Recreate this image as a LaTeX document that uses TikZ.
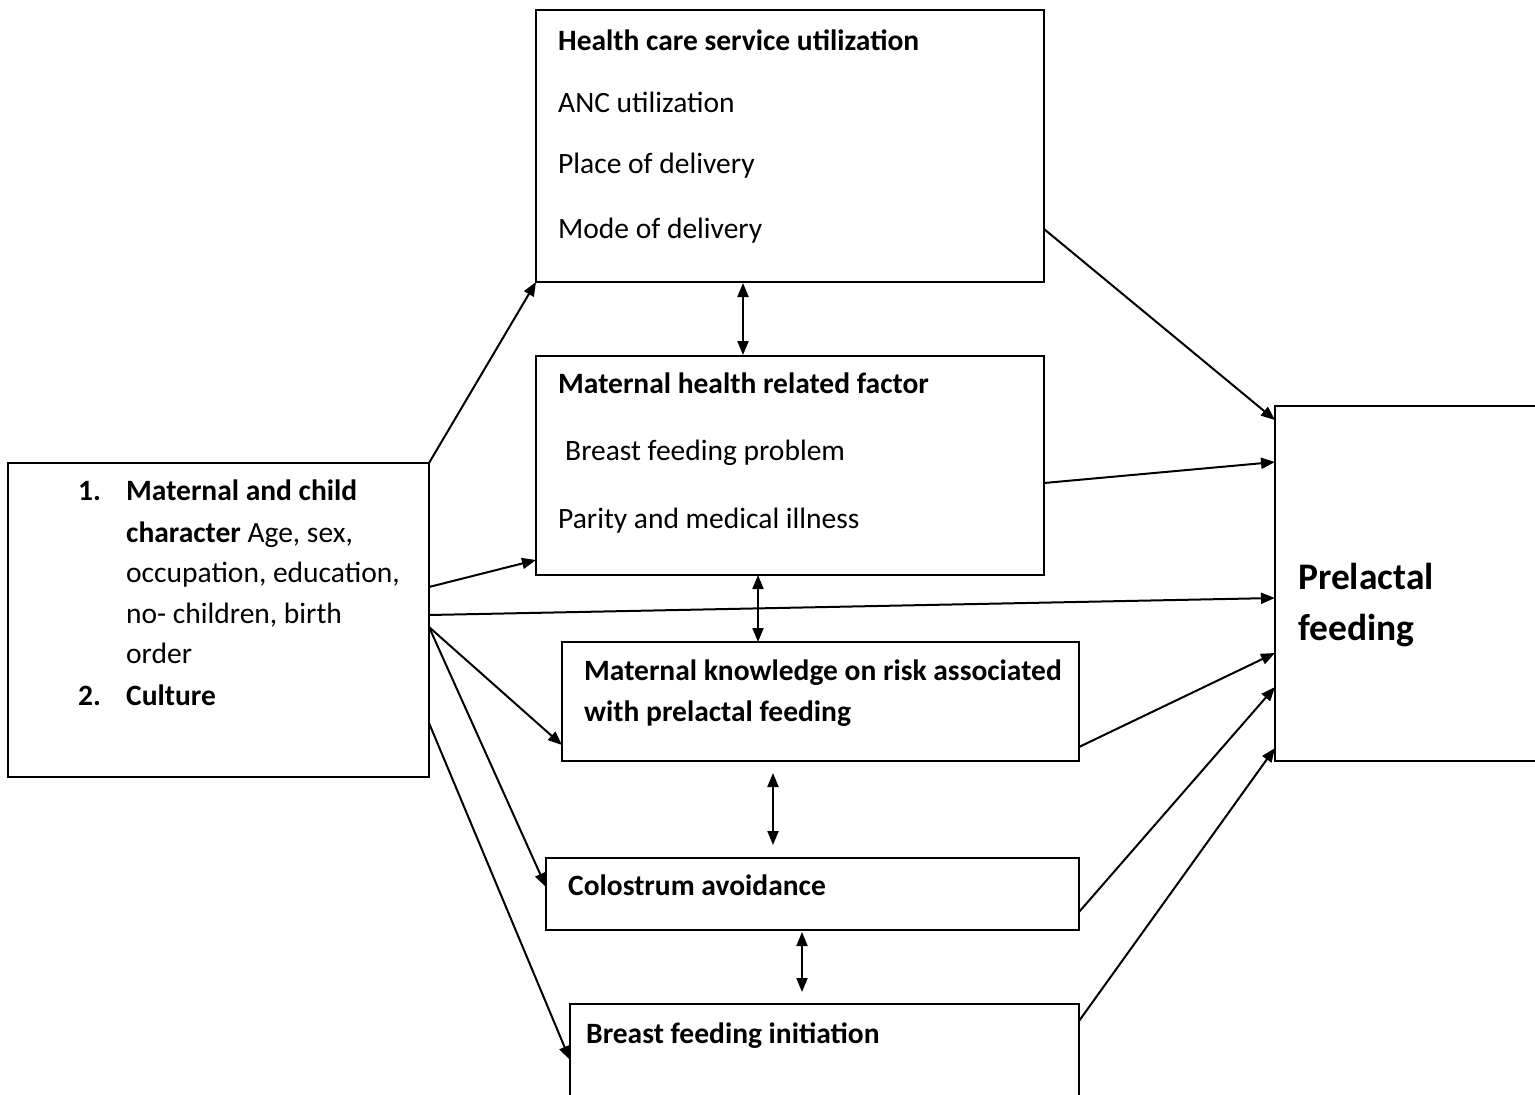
\documentclass[tikz,border=0pt]{standalone}
\usepackage{fontspec}
\setmainfont{Carlito}
\usetikzlibrary{arrows.meta}
\begin{document}
\begin{tikzpicture}[x=1pt,y=-1pt,
  box/.style={draw,line width=1.8pt,inner sep=0pt,outer sep=0pt,anchor=north west},
  conn/.style={line width=2pt,-{Triangle[length=14pt,width=11pt]}},
  dconn/.style={line width=2pt,{Triangle[length=14pt,width=11pt]}-{Triangle[length=14pt,width=11pt]}},
  txt/.style={anchor=base west,inner sep=0pt,font=\fontsize{29.5}{35}\selectfont},
  btxt/.style={anchor=base west,inner sep=0pt,font=\fontsize{29.5}{35}\selectfont\bfseries},
  bigtxt/.style={anchor=base west,inner sep=0pt,font=\fontsize{37.5}{45}\selectfont\bfseries}]
\useasboundingbox (0,0) rectangle (1535,1095);
\clip (0,0) rectangle (1535,1095);
\fill[white] (0,0) rectangle (1535,1095);
% boxes
\node[box,minimum width=508pt,minimum height=272pt] (hc) at (536,10) {};
\node[box,minimum width=508pt,minimum height=219pt] (mh) at (536,356) {};
\node[box,minimum width=517pt,minimum height=119pt] (mk) at (562,642) {};
\node[box,minimum width=533pt,minimum height=72pt] (co) at (546,858) {};
\node[box,minimum width=509pt,minimum height=200pt] (bf) at (570,1004) {};
\node[box,minimum width=421pt,minimum height=314pt] (lb) at (8,463) {};
\node[box,minimum width=330pt,minimum height=355pt] (pf) at (1275,406) {};
% texts
\node[btxt] (t1) at (558,50) {Health care service utilization};
\node[txt] (t2) at (558,112) {ANC utilization};
\node[txt] (t3) at (558,173) {Place of delivery};
\node[txt] (t4) at (558,238) {Mode of delivery};
\node[btxt] (t5) at (558,393) {Maternal health related factor};
\node[txt] (t6) at (565,460) {Breast feeding problem};
\node[txt] (t7) at (558,528) {Parity and medical illness};
\node[btxt] (t8) at (584,680) {Maternal knowledge on risk associated};
\node[btxt] (t9) at (584,721) {with prelactal feeding};
\node[btxt] (t10) at (568,895) {Colostrum avoidance};
\node[btxt] (t11) at (586,1043) {Breast feeding initiation};
\node[btxt] (n1) at (78,500) {1.};
\node[btxt] (l1) at (126,500) {Maternal and child};
\node[txt] (l2) at (126,542) {\textbf{character} Age, sex,};
\node[txt] (l3) at (126,582) {occupation, education,};
\node[txt] (l4) at (126,623) {no- children, birth};
\node[txt] (l5) at (126,663) {order};
\node[btxt] (n2) at (78,705) {2.};
\node[btxt] (l6) at (126,705) {Culture};
\node[bigtxt] (p1) at (1298,589) {Prelactal};
\node[bigtxt] (p2) at (1298,640) {feeding};
% connector ends
\coordinate (o2) at (429,587);
\coordinate (e2) at (536,560);
\coordinate (o3) at (429,615);
\coordinate (e3) at (1275,598);
\coordinate (o4) at (429,627);
\coordinate (e4) at (562,745);
\coordinate (e5) at (546,887);
\coordinate (o6) at (429,723);
\coordinate (e6) at (570,1060);
\coordinate (o7) at (1044,229);
\coordinate (e7) at (1275,420);
\coordinate (o8) at (1044,483);
\coordinate (e8) at (1275,462);
\coordinate (o9) at (1079,747);
\coordinate (e9) at (1275,653);
\coordinate (o10) at (1079,912);
\coordinate (e10) at (1275,687);
\coordinate (o11) at (1079,1021);
\coordinate (e11) at (1275,748);
\coordinate (d1a) at (743,283);
\coordinate (d1b) at (743,355);
\coordinate (d2a) at (758,575);
\coordinate (d2b) at (758,642);
\coordinate (d3a) at (773,773);
\coordinate (d3b) at (773,845);
\coordinate (d4a) at (802,932);
\coordinate (d4b) at (802,992);
% connectors
\draw[conn] (lb.north east) -- (hc.south west);
\draw[conn] (o2) -- (e2);
\draw[conn] (o3) -- (e3);
\draw[conn] (o4) -- (e4);
\draw[conn] (o4) -- (e5);
\draw[conn] (o6) -- (e6);
\draw[conn] (o7) -- (e7);
\draw[conn] (o8) -- (e8);
\draw[conn] (o9) -- (e9);
\draw[conn] (o10) -- (e10);
\draw[conn] (o11) -- (e11);
\draw[dconn] (d1a) -- (d1b);
\draw[dconn] (d2a) -- (d2b);
\draw[dconn] (d3a) -- (d3b);
\draw[dconn] (d4a) -- (d4b);
\end{tikzpicture}
\end{document}
